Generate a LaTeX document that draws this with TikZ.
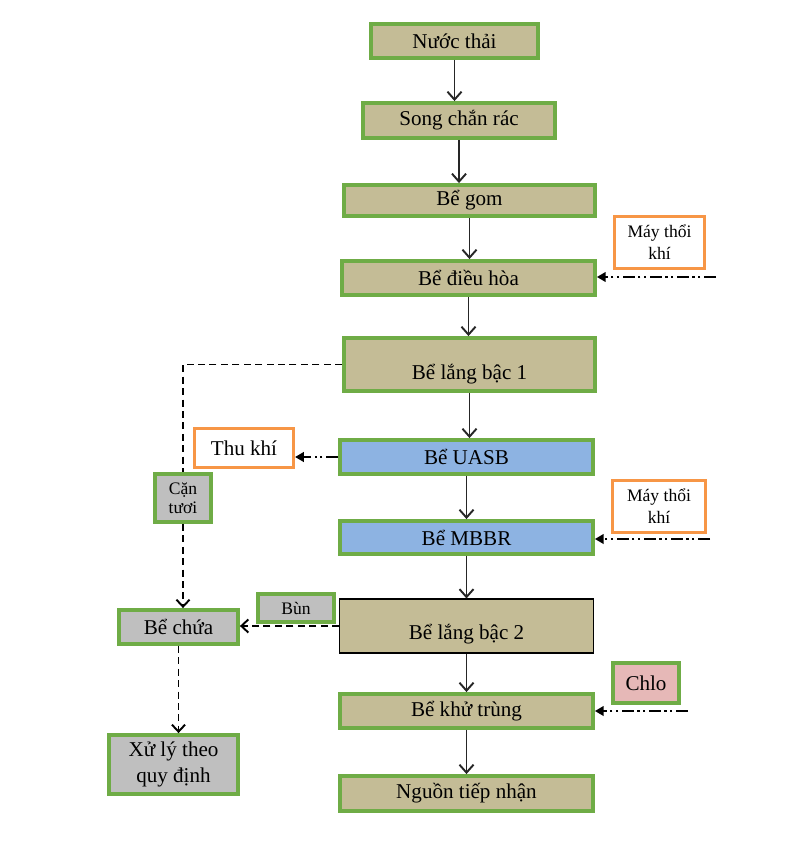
\documentclass[tikz,border=0pt]{standalone}
\usepackage{fontspec}
\setmainfont{Liberation Serif}
\usetikzlibrary{arrows.meta}
\definecolor{tankfill}{HTML}{C4BC96}
\definecolor{tankgreen}{HTML}{6FAC46}
\definecolor{bioblue}{HTML}{8DB3E2}
\definecolor{slgray}{HTML}{BFBFBF}
\definecolor{airorange}{HTML}{F79646}
\definecolor{chlopink}{HTML}{E6B8B7}

\begin{document}
\begin{tikzpicture}[x=0.02cm,y=-0.02cm,
    t/.style={draw=tankgreen,line width=2.2pt,fill=tankfill,inner sep=0pt,font=\fontsize{12}{14}\selectfont,align=center},
    bio/.style={t,fill=bioblue},
    sl/.style={t,fill=slgray},
    air/.style={draw=airorange,line width=1.8pt,fill=white,inner sep=0pt,align=center,font=\fontsize{10}{12.5}\selectfont},
    flow/.style={->,line width=1.1pt,draw=black!85,>={Straight Barb[length=4.5pt,width=8pt]}},
    blow/.style={-{Triangle[length=5pt,width=5.5pt]},line width=1.1pt,dash pattern=on 7pt off 2pt on 1.2pt off 2pt on 1.2pt off 2pt},
    mud/.style={line width=1.1pt,dash pattern=on 4pt off 2.5pt,>={Straight Barb[length=4pt,width=7.5pt]}}]
    \useasboundingbox (0,0) rectangle (800,851);
    % main line
    \node[t,minimum width=3.34cm,minimum height=0.68cm] (nuoc) at (454.5,41) {Nước thải};
    \node[t,minimum width=3.84cm,minimum height=0.70cm] (song) at (459,120.5) {Song chắn rác};
    \node[t,minimum width=5.02cm,minimum height=0.62cm] (gom) at (469.5,200.5) {Bể gom};
    \node[t,minimum width=5.06cm,minimum height=0.68cm] (dieuhoa) at (468.5,278) {Bể điều hòa};
    \node[t,minimum width=5.02cm,minimum height=1.06cm,text height=20pt,text depth=3pt] (lang1) at (469.5,364.5) {Bể lắng bậc 1};
    \node[bio,minimum width=5.06cm,minimum height=0.68cm] (uasb) at (466.5,457) {Bể UASB};
    \node[bio,minimum width=5.06cm,minimum height=0.66cm] (mbbr) at (466.5,537.5) {Bể MBBR};
    \node[t,draw=black,line width=0.6pt,minimum width=5.08cm,minimum height=1.08cm,text height=18pt,text depth=3pt] (lang2) at (466.5,626) {Bể lắng bậc 2};
    \node[t,minimum width=5.06cm,minimum height=0.68cm] (khu) at (466.5,711) {Bể khử trùng};
    \node[t,minimum width=5.06cm,minimum height=0.70cm] (nguon) at (466.5,793.5) {Nguồn tiếp nhận};
    % inputs
    \node[air,minimum width=1.80cm,minimum height=1.04cm] (may1) at (659.5,242.5) {Máy thổi\\khí};
    \node[air,minimum width=1.86cm,minimum height=1.04cm] (may2) at (659,506.5) {Máy thổi\\khí};
    \node[t,fill=chlopink,minimum width=1.32cm,minimum height=0.80cm] (chlo) at (646,683) {Chlo};
    \node[air,font=\fontsize{12}{14}\selectfont,minimum width=1.98cm,minimum height=0.78cm] (thukhi) at (244,448) {Thu khí};
    % sludge
    \node[sl,font=\fontsize{10}{11}\selectfont,minimum width=1.12cm,minimum height=0.96cm] (cantuoi) at (183,498) {Cặn\\tươi};
    \node[sl,line width=1.8pt,font=\fontsize{10}{12}\selectfont,minimum width=1.52cm,minimum height=0.56cm] (bun) at (296,608) {Bùn};
    \node[sl,minimum width=2.38cm,minimum height=0.68cm] (bechua) at (178.5,627) {Bể chứa};
    \node[sl,font=\fontsize{12}{14.5}\selectfont,minimum width=2.58cm,minimum height=1.18cm] (xuly) at (173.5,764.5) {Xử lý theo\\quy định};
    \coordinate (a1) at (716,277);
    \coordinate (a2) at (710,539);
    \coordinate (a3) at (688,711);

    \foreach \a/\b in {nuoc/song,song/gom,gom/dieuhoa,dieuhoa/lang1,lang1/uasb,uasb/mbbr,mbbr/lang2,lang2/khu,khu/nguon}
        \draw[flow] (\a.south) -- (\a.south |- \b.north);
    \draw[blow] (a1) -- (a1 -| dieuhoa.east);
    \draw[blow] (a2) -- (a2 -| mbbr.east);
    \draw[blow] (a3) -- (a3 -| khu.east);
    \draw[blow] (uasb.west) -- (uasb.west -| thukhi.east);
    \draw[mud] (lang1.west) -| (cantuoi.north);
    \draw[mud,->] (cantuoi.south) -- (cantuoi.south |- bechua.north);
    \draw[mud,->] (lang2.west) -- (lang2.west -| bechua.east);
    \draw[mud,->] (bechua.south) -- (bechua.south |- xuly.north);
\end{tikzpicture}
\end{document}
